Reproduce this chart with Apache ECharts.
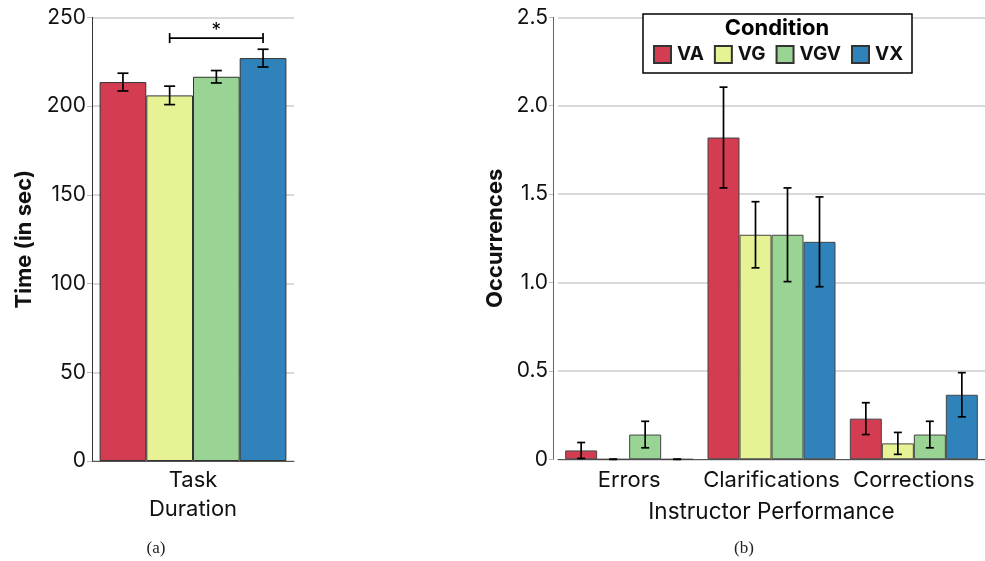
<!DOCTYPE html>
<html>
<head>
<meta charset="utf-8">
<script src="https://cdn.jsdelivr.net/npm/echarts@6/dist/echarts.min.js"></script>
<style>html,body{margin:0;padding:0;background:#fff}#c{width:985px;height:561px}</style>
</head>
<body>
<div id="c"></div>
<script>
// ---- data ----
const conditions = ['VA', 'VG', 'VGV', 'VX'];
const colors = ['#D43D51', '#E6F294', '#9AD494', '#2F83BA'];

const taskCategories = ['Task\nDuration'];
const taskMeans = [213.5, 206, 216.5, 227];
const taskErrors = [5, 5.2, 3.5, 5];
const taskTicks = [0, 50, 100, 150, 200, 250];
const sigFrom = 'VG', sigTo = 'VX', sigValue = 238.3, sigLabel = '*';

const perfCategories = ['Errors', 'Clarifications', 'Corrections'];
const vaPerf = [0.05, 1.82, 0.23];
const vgPerf = [0, 1.27, 0.09];
const vgvPerf = [0.14, 1.27, 0.14];
const vxPerf = [0, 1.23, 0.365];
const vaPerfErr = [0.045, 0.285, 0.09];
const vgPerfErr = [0, 0.187, 0.062];
const vgvPerfErr = [0.075, 0.265, 0.075];
const vxPerfErr = [0, 0.254, 0.125];
const perfTicks = ['0', '0.5', '1.0', '1.5', '2.0', '2.5'];

const perfMeans = [vaPerf, vgPerf, vgvPerf, vxPerf];
const perfErrs = [vaPerfErr, vgPerfErr, vgvPerfErr, vxPerfErr];

// ---- chart ----
const FONT = 'Inter';
const chart = echarts.init(document.getElementById('c'), null, {renderer: 'canvas'});

const leftBarW = 46.7, rightBarW = 32;

function errRender(barW, capW) {
  return function (params, api) {
    const cat = api.value(0), ci = api.value(1), m = api.value(2), e = api.value(3);
    const c = api.coord([cat, m]);
    const x = c[0] + (ci - 1.5) * barW;
    const yt = api.coord([cat, m + e])[1];
    const yb = api.coord([cat, m - e])[1];
    const st = {stroke: '#000', lineWidth: 1.7};
    return {type: 'group', children: [
      {type: 'line', shape: {x1: x, y1: yt, x2: x, y2: yb}, style: st},
      {type: 'line', shape: {x1: x - capW / 2, y1: yt, x2: x + capW / 2, y2: yt}, style: st},
      {type: 'line', shape: {x1: x - capW / 2, y1: yb, x2: x + capW / 2, y2: yb}, style: st}
    ]};
  };
}

const series = [];
conditions.forEach((name, i) => {
  series.push({
    type: 'bar', name, xAxisIndex: 0, yAxisIndex: 0,
    data: [taskMeans[i]], barWidth: leftBarW, barGap: '0%',
    itemStyle: {color: colors[i], borderColor: '#333', borderWidth: 1},
    silent: true
  });
  series.push({
    type: 'bar', name, xAxisIndex: 1, yAxisIndex: 1,
    data: perfMeans[i], barWidth: rightBarW, barGap: '0%',
    itemStyle: {color: colors[i], borderColor: '#444', borderWidth: 1},
    silent: true
  });
});

const taskErrData = conditions.map((n, i) => [0, i, taskMeans[i], taskErrors[i]]);
series.push({
  type: 'custom', xAxisIndex: 0, yAxisIndex: 0, clip: false, z: 5,
  encode: {x: 0, y: 2},
  data: taskErrData, renderItem: errRender(leftBarW, 11)
});
const perfErrData = [];
perfCategories.forEach((c, k) => conditions.forEach((n, i) => perfErrData.push([k, i, perfMeans[i][k], perfErrs[i][k]])));
series.push({
  type: 'custom', xAxisIndex: 1, yAxisIndex: 1, clip: false, z: 5,
  encode: {x: 0, y: 2},
  data: perfErrData, renderItem: errRender(rightBarW, 8)
});
// significance bracket
series.push({
  type: 'custom', xAxisIndex: 0, yAxisIndex: 0, clip: false, z: 5,
  encode: {x: 0, y: 1},
  data: [[0, sigValue]],
  renderItem: function (params, api) {
    const c = api.coord([0, sigValue]);
    const x1 = c[0] + (conditions.indexOf(sigFrom) - 1.5) * leftBarW;
    const x2 = c[0] + (conditions.indexOf(sigTo) - 1.5) * leftBarW;
    const y = c[1];
    const st = {stroke: '#000', lineWidth: 1.7};
    return {type: 'group', children: [
      {type: 'line', shape: {x1, y1: y, x2, y2: y}, style: st},
      {type: 'line', shape: {x1, y1: y - 5, x2: x1, y2: y + 5}, style: st},
      {type: 'line', shape: {x1: x2, y1: y - 5, x2, y2: y + 5}, style: st},
      {type: 'text', style: {text: sigLabel, x: (x1 + x2) / 2, y: y + 2, textAlign: 'center', textVerticalAlign: 'bottom',
        fontSize: 19, fontFamily: FONT, fill: '#000'}}
    ]};
  }
});

const tickLabel = {fontSize: 21, fontFamily: FONT, color: '#111'};
const catLabel = {fontSize: 22, fontFamily: FONT, color: '#111'};

chart.setOption({
  animation: false,
  grid: [
    {left: 92, top: 17.3, width: 202, height: 443.7},
    {left: 558, top: 17.3, width: 432, height: 442}
  ],
  xAxis: [
    {type: 'category', gridIndex: 0, data: taskCategories,
      axisLine: {lineStyle: {color: '#555', width: 1}}, axisTick: {show: false},
      axisLabel: Object.assign({}, catLabel, {margin: 5, lineHeight: 29, interval: 0})},
    {type: 'category', gridIndex: 1, data: perfCategories,
      axisLine: {lineStyle: {color: '#555', width: 1}}, axisTick: {show: false},
      axisLabel: Object.assign({}, catLabel, {margin: 10, interval: 0}),
      name: 'Instructor Performance', nameLocation: 'middle', nameGap: 41,
      nameTextStyle: {fontSize: 22.5, fontFamily: FONT, color: '#111'}}
  ],
  yAxis: [
    {type: 'value', gridIndex: 0, min: 0, max: 250, interval: 50,
      axisLine: {show: true, lineStyle: {color: '#333', width: 1}},
      axisTick: {show: true, length: 5, lineStyle: {color: '#bbb'}},
      splitLine: {lineStyle: {color: '#ccc', width: 1.5}},
      axisLabel: Object.assign({}, tickLabel, {margin: 6, formatter: v => String(taskTicks[taskTicks.indexOf(v)])}),
      name: 'Time (in sec)', nameLocation: 'middle', nameGap: 57,
      nameTextStyle: {fontSize: 22, fontWeight: 'bold', fontFamily: FONT, color: '#111'}},
    {type: 'value', gridIndex: 1, min: 0, max: 2.5, interval: 0.5, offset: 5,
      axisLine: {show: true, lineStyle: {color: '#666', width: 1}},
      axisTick: {show: true, length: 4, lineStyle: {color: '#bbb'}},
      splitLine: {lineStyle: {color: '#ccc', width: 1.5}},
      axisLabel: Object.assign({}, tickLabel, {margin: 5, formatter: v => perfTicks[Math.round(v / 0.5)]}),
      name: 'Occurrences', nameLocation: 'middle', nameGap: 47,
      nameTextStyle: {fontSize: 22, fontWeight: 'bold', fontFamily: FONT, color: '#111'}}
  ],
  legend: {
    data: conditions, left: 653, top: 45, z: 20, icon: 'rect',
    itemWidth: 17, itemHeight: 17, itemGap: 10, padding: 0,
    textStyle: {fontSize: 19, fontWeight: 'bold', fontFamily: FONT, color: '#111', padding: [0, 0, 0, 1]},
    selectedMode: false
  },
  graphic: [
    {type: 'rect', z: 10, shape: {x: 643, y: 14, width: 269, height: 59},
      style: {fill: '#fff', stroke: '#000', lineWidth: 1.5}},
    {type: 'text', z: 11, style: {text: 'Condition', x: 777, y: 28, textAlign: 'center', textVerticalAlign: 'middle',
      fontSize: 22, fontWeight: 'bold', fontFamily: FONT, fill: '#000'}},
    {type: 'text', z: 11, style: {text: '(a)', x: 156, y: 549, textAlign: 'center', textVerticalAlign: 'middle',
      fontSize: 17, fontFamily: 'Liberation Serif', fill: '#222'}},
    {type: 'text', z: 11, style: {text: '(b)', x: 744, y: 549, textAlign: 'center', textVerticalAlign: 'middle',
      fontSize: 17, fontFamily: 'Liberation Serif', fill: '#222'}}
  ],
  series
});
</script>
</body>
</html>
